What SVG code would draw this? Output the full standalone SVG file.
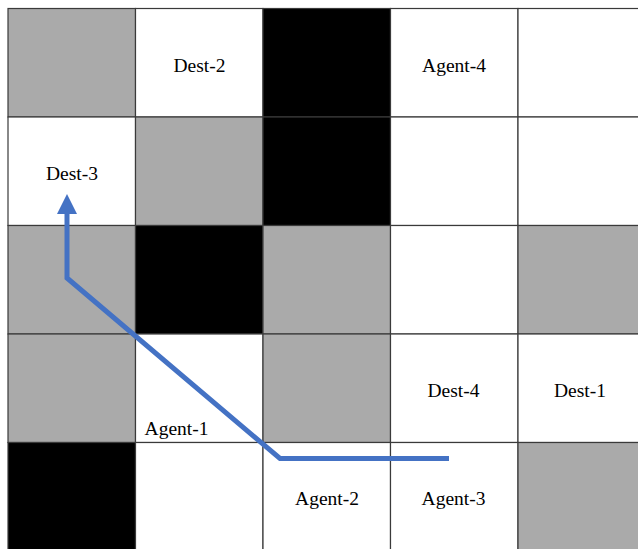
<svg xmlns="http://www.w3.org/2000/svg" width="638" height="549" viewBox="0 0 638 549">
<style>
.c{stroke:#3a3a3a;stroke-width:1.2}
.w{fill:#ffffff}
.g{fill:#aaaaaa}
.b{fill:#000000}
text{font-family:"Liberation Serif","Times New Roman",serif;font-size:19.5px;fill:#000;text-anchor:middle}
</style>
<defs>
<marker id="ah" markerUnits="userSpaceOnUse" markerWidth="20" markerHeight="20" viewBox="0 0 20 20" refX="4" refY="10" orient="auto">
<polygon points="0,0 20,10 0,20" fill="#4472c4"/>
</marker>
</defs>
<rect width="638" height="549" fill="#ffffff"/>
<g id="grid">
<g id="r0">
<rect id="c00" class="c g" x="8" y="8.5" width="127.5" height="108.5"/>
<rect id="c01" class="c w" x="135.5" y="8.5" width="127.5" height="108.5"/>
<rect id="c02" class="c b" x="263" y="8.5" width="127.5" height="108.5"/>
<rect id="c03" class="c w" x="390.5" y="8.5" width="127.5" height="108.5"/>
<rect id="c04" class="c w" x="518" y="8.5" width="127.5" height="108.5"/>
</g>
<g id="r1">
<rect id="c10" class="c w" x="8" y="117" width="127.5" height="108.5"/>
<rect id="c11" class="c g" x="135.5" y="117" width="127.5" height="108.5"/>
<rect id="c12" class="c b" x="263" y="117" width="127.5" height="108.5"/>
<rect id="c13" class="c w" x="390.5" y="117" width="127.5" height="108.5"/>
<rect id="c14" class="c w" x="518" y="117" width="127.5" height="108.5"/>
</g>
<g id="r2">
<rect id="c20" class="c g" x="8" y="225.5" width="127.5" height="108.5"/>
<rect id="c21" class="c b" x="135.5" y="225.5" width="127.5" height="108.5"/>
<rect id="c22" class="c g" x="263" y="225.5" width="127.5" height="108.5"/>
<rect id="c23" class="c w" x="390.5" y="225.5" width="127.5" height="108.5"/>
<rect id="c24" class="c g" x="518" y="225.5" width="127.5" height="108.5"/>
</g>
<g id="r3">
<rect id="c30" class="c g" x="8" y="334" width="127.5" height="108.5"/>
<rect id="c31" class="c w" x="135.5" y="334" width="127.5" height="108.5"/>
<rect id="c32" class="c g" x="263" y="334" width="127.5" height="108.5"/>
<rect id="c33" class="c w" x="390.5" y="334" width="127.5" height="108.5"/>
<rect id="c34" class="c w" x="518" y="334" width="127.5" height="108.5"/>
</g>
<g id="r4">
<rect id="c40" class="c b" x="8" y="442.5" width="127.5" height="108.5"/>
<rect id="c41" class="c w" x="135.5" y="442.5" width="127.5" height="108.5"/>
<rect id="c42" class="c w" x="263" y="442.5" width="127.5" height="108.5"/>
<rect id="c43" class="c w" x="390.5" y="442.5" width="127.5" height="108.5"/>
<rect id="c44" class="c g" x="518" y="442.5" width="127.5" height="108.5"/>
</g>
</g>
<g id="labels">
<text id="dest2" x="199.5" y="71.5">Dest-2</text>
<text id="agent4" x="454" y="71.5">Agent-4</text>
<text id="dest3" x="72" y="180">Dest-3</text>
<text id="dest4" x="453.5" y="397">Dest-4</text>
<text id="dest1" x="580" y="397">Dest-1</text>
<text id="agent1" x="176.5" y="434.5">Agent-1</text>
<text id="agent2" x="327" y="504.5">Agent-2</text>
<text id="agent3" x="453.5" y="504.5">Agent-3</text>
</g>
<g id="connectors">
<path id="route" d="M449 458.5 L280 458.5 L67 278 L67 210" fill="none" stroke="#4472c4" stroke-width="5" stroke-linejoin="miter" marker-end="url(#ah)"/>
</g>
</svg>
